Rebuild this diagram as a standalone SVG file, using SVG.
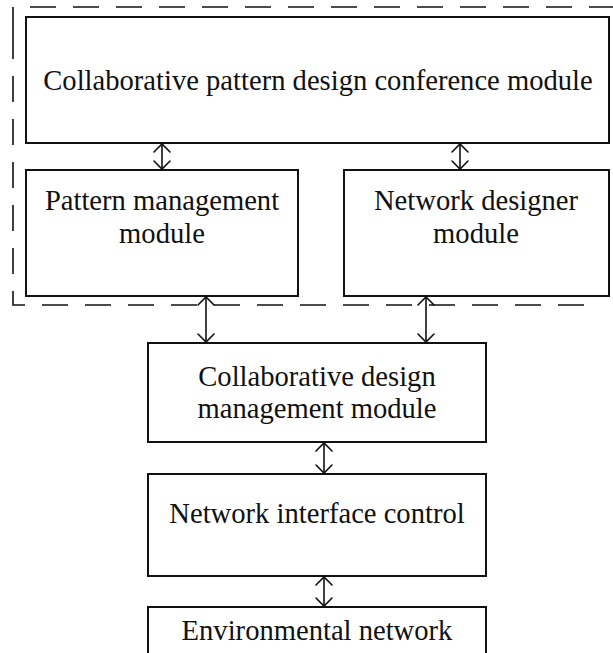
<svg xmlns="http://www.w3.org/2000/svg" width="613" height="653" viewBox="0 0 613 653">
  <style>
    .box { fill: #fff; stroke: #111; stroke-width: 2; }
    .lbl { font-family: "Liberation Serif", "Times New Roman", serif; font-size: 28.6px; fill: #111; text-anchor: middle; }
    .link { stroke: #111; stroke-width: 1.6; fill: none; }
    .head { stroke: #111; stroke-width: 1.6; fill: none; stroke-linecap: round; }
    .group { fill: none; stroke: #111; stroke-width: 1.6; stroke-dasharray: 26 17; }
  </style>
  <defs>
    <marker id="open" viewBox="-10 -10 20 20" markerWidth="20" markerHeight="20" markerUnits="userSpaceOnUse" refX="0" refY="0" orient="auto-start-reverse">
      <path d="M -8 -8 L 0 0 L -8 8" class="head"/>
    </marker>
  </defs>

  <rect width="613" height="653" fill="#fff"/>

  <!-- dashed boundary around the design subsystem -->
  <path id="subsystem" class="group" d="M 13 33 L 13 305 L 598 305 M 13 33 L 13 7 L 613 7"/>

  <g id="n-conference">
    <rect class="box" x="26" y="17" width="583" height="126"/>
    <text class="lbl" x="318" y="90">Collaborative pattern design conference module</text>
  </g>

  <g id="n-pattern">
    <rect class="box" x="26" y="170" width="272" height="126"/>
    <text class="lbl" x="162" y="210">Pattern management</text>
    <text class="lbl" x="162" y="243">module</text>
  </g>

  <g id="n-designer">
    <rect class="box" x="344" y="170" width="265" height="126"/>
    <text class="lbl" x="476" y="210">Network designer</text>
    <text class="lbl" x="476" y="243">module</text>
  </g>

  <g id="n-collab-mgmt">
    <rect class="box" x="148" y="343" width="338" height="99"/>
    <text class="lbl" x="317" y="386">Collaborative design</text>
    <text class="lbl" x="317" y="418">management module</text>
  </g>

  <g id="n-interface">
    <rect class="box" x="148" y="474" width="338" height="102"/>
    <text class="lbl" x="317" y="523">Network interface control</text>
  </g>

  <g id="n-environment">
    <rect class="box" x="148" y="607" width="338" height="60"/>
    <text class="lbl" x="317" y="640">Environmental network</text>
  </g>

  <g id="connectors">
    <line class="link" x1="162" y1="144" x2="162" y2="169" marker-start="url(#open)" marker-end="url(#open)"/>
    <line class="link" x1="460" y1="144" x2="460" y2="169" marker-start="url(#open)" marker-end="url(#open)"/>
    <line class="link" x1="206" y1="297" x2="206" y2="342" marker-start="url(#open)" marker-end="url(#open)"/>
    <line class="link" x1="426" y1="297" x2="426" y2="342" marker-start="url(#open)" marker-end="url(#open)"/>
    <line class="link" x1="324" y1="443" x2="324" y2="473" marker-start="url(#open)" marker-end="url(#open)"/>
    <line class="link" x1="324" y1="577" x2="324" y2="606" marker-start="url(#open)" marker-end="url(#open)"/>
  </g>
</svg>
